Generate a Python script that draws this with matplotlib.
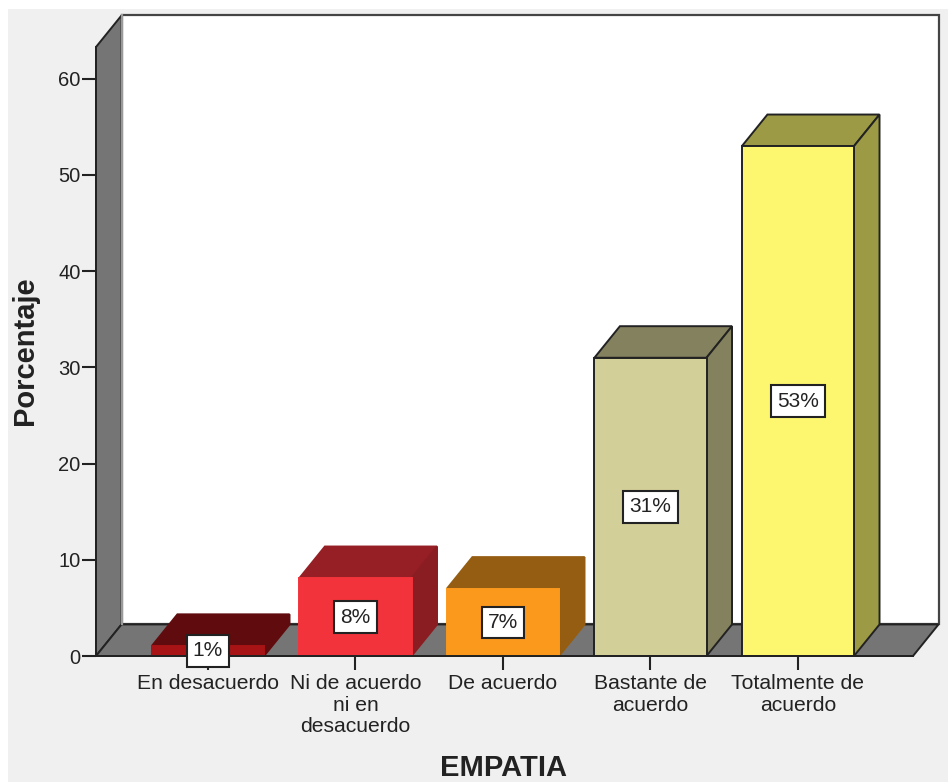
from matplotlib import pyplot as plt
from matplotlib.patches import Polygon, Rectangle

plt.rcParams['font.family'] = ['Liberation Sans', 'DejaVu Sans']

categories = ['En desacuerdo', 'Ni de acuerdo\nni en\ndesacuerdo', 'De acuerdo',
              'Bastante de\nacuerdo', 'Totalmente de\nacuerdo']
values = [1.05, 8.1, 7.0, 31, 53]
value_labels = ['1%', '8%', '7%', '31%', '53%']
y_ticks = [0, 10, 20, 30, 40, 50, 60]

front_colors = ['#a81416', '#f2333b', '#fb991c', '#d3cf98', '#fcf76f']
top_colors = ['#600c0e', '#951f24', '#955d12', '#84815e', '#9c9a45']
side_colors = ['#600c0e', '#8a1d22', '#955d12', '#84815e', '#9c9a45']
# only the last two bars have a dark outline
outlined = [False, False, False, True, True]

width = 0.76
# 3d depth of the chart in data units
dx = 0.173
dy = 3.28
text_color = '#222222'

fig = plt.figure(figsize=(9.48, 7.82), dpi=100)
fig.patch.set_facecolor('white')
# grey panel has to sit under the axes
fig.add_artist(Rectangle((8 / 948, 0), 940 / 948, 773 / 782, transform=fig.transFigure,
                         facecolor='#f0f0f0', edgecolor='none', zorder=-1))

ax = fig.add_axes([96 / 948, 126 / 782, 817 / 948, 609 / 782])
ax.patch.set_visible(False)
x0, x1 = -0.759, 4.78
y0, y1 = 0, 63.3
ax.set_xlim(x0, x1)
ax.set_ylim(y0, y1)

# back wall, left wall, floor
ax.add_patch(Polygon([(x0 + dx, y0 + dy), (x1 + dx, y0 + dy), (x1 + dx, y1 + dy), (x0 + dx, y1 + dy)],
                     facecolor='white', edgecolor='#444444', lw=1.6, clip_on=False, zorder=1))
ax.add_patch(Polygon([(x0, y0), (x0 + dx, y0 + dy), (x0 + dx, y1 + dy), (x0, y1)],
                     facecolor='#757575', edgecolor='#222222', lw=1.4, clip_on=False, zorder=1.5))
ax.add_patch(Polygon([(x0, y0), (x1, y0), (x1 + dx, y0 + dy), (x0 + dx, y0 + dy)],
                     facecolor='#757575', edgecolor='#222222', lw=1.4, clip_on=False, zorder=1.5))
# inner edge of the left wall is lighter
ax.plot([x0 + dx, x0 + dx], [y0 + dy, y1 + dy], color='#9a9a9a', lw=1.6, clip_on=False, zorder=1.6)

for i, v in enumerate(values):
    l = i - width / 2
    r = i + width / 2
    ax.add_patch(Polygon([(l, v), (r, v), (r + dx, v + dy), (l + dx, v + dy)], facecolor=top_colors[i],
                         edgecolor=text_color if outlined[i] else top_colors[i], lw=1.4, clip_on=False, zorder=2))
    ax.add_patch(Polygon([(r, 0), (r + dx, dy), (r + dx, v + dy), (r, v)], facecolor=side_colors[i],
                         edgecolor=text_color if outlined[i] else side_colors[i], lw=1.4, clip_on=False, zorder=2))
    ax.bar(i, v, width=width, color=front_colors[i],
           edgecolor=text_color if outlined[i] else front_colors[i], lw=1.4, zorder=3)
    ax.text(i, v / 2, value_labels[i], ha='center', va='center', fontsize=15, color=text_color, zorder=5,
            bbox=dict(boxstyle='square,pad=0.3', facecolor='white', edgecolor=text_color, lw=1.5),
            clip_on=False)

for s in ['top', 'right']:
    ax.spines[s].set_visible(False)
for s in ['left', 'bottom']:
    ax.spines[s].set_linewidth(1.4)
    ax.spines[s].set_color(text_color)
    ax.spines[s].set_zorder(4)

ax.set_xticks(range(len(categories)))
ax.set_xticklabels(categories, fontsize=15.2, color=text_color, linespacing=1.18)
ax.set_yticks(y_ticks)
ax.tick_params(axis='y', length=10, width=1.5, color=text_color, labelsize=14.5, labelcolor=text_color, pad=1)
ax.tick_params(axis='x', length=10, width=1.5, color=text_color, pad=3)

fig.text(504 / 948, 1 - 768 / 782, 'EMPATIA', fontsize=21, fontweight='bold', color=text_color,
         ha='center', va='center')
fig.text(25 / 948, 1 - 351 / 782, 'Porcentaje', fontsize=21, fontweight='bold', color=text_color,
         rotation=90, ha='center', va='center')

plt.savefig('out.png', dpi=100)
